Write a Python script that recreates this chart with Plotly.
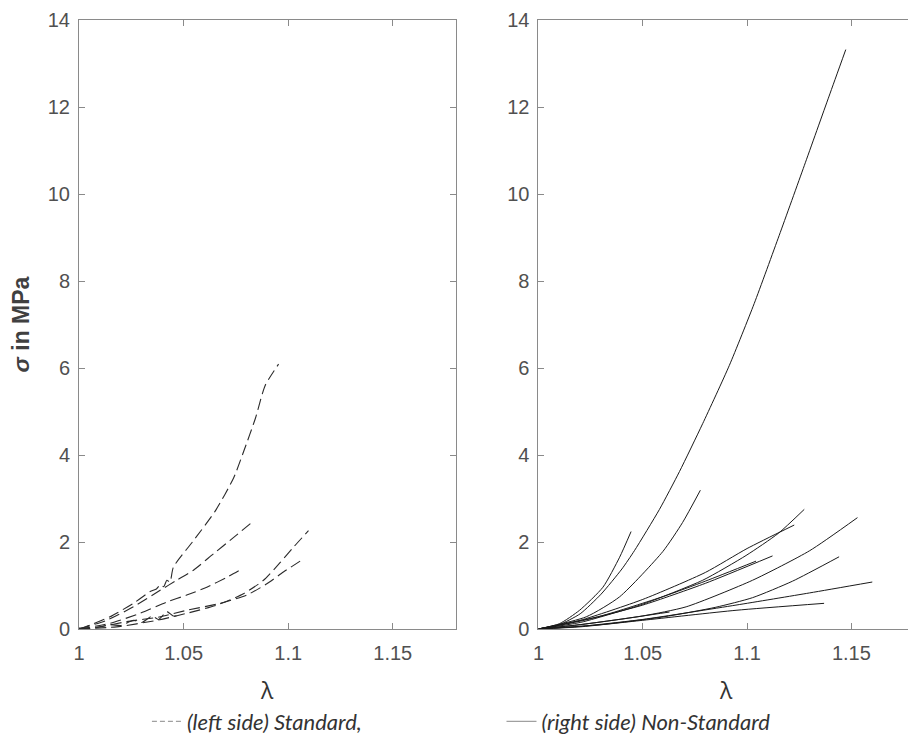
import plotly.graph_objects as go

# ---------------- data ----------------
# Left panel: standard specimens (dashed)
std1_x = [1.0, 1.0053, 1.0148, 1.026, 1.034, 1.037, 1.039, 1.0405, 1.042, 1.0435, 1.0451, 1.0547, 1.0651, 1.0739, 1.0787, 1.0843, 1.0890, 1.0954]
std1_y = [0.0, 0.09, 0.28, 0.59, 0.86, 0.92, 1.02, 0.97, 1.12, 1.08, 1.42, 2.03, 2.71, 3.47, 4.08, 4.84, 5.60, 6.09]
std2_x = [1.0, 1.0132, 1.026, 1.0388, 1.0467, 1.0547, 1.0643, 1.0738, 1.0826]
std2_y = [0.0, 0.2, 0.51, 0.89, 1.12, 1.35, 1.73, 2.10, 2.45]
std3_x = [1.0, 1.0148, 1.0292, 1.042, 1.0515, 1.0611, 1.0707, 1.0778]
std3_y = [0.0, 0.13, 0.36, 0.62, 0.78, 0.96, 1.19, 1.38]
std4_x = [1.0, 1.018, 1.0372, 1.0515, 1.0659, 1.0786, 1.0882, 1.0962, 1.1025, 1.1097]
std4_y = [0.0, 0.05, 0.2, 0.36, 0.55, 0.81, 1.12, 1.53, 1.88, 2.26]
std5_x = [1.0, 1.01, 1.0228, 1.0388, 1.0515, 1.0675, 1.0802, 1.0898, 1.0977, 1.1057]
std5_y = [0.0, 0.05, 0.17, 0.28, 0.43, 0.59, 0.78, 1.04, 1.31, 1.56]
std6_x = [1.0, 1.008, 1.015, 1.02, 1.026, 1.03, 1.035, 1.038, 1.042, 1.045, 1.048]
std6_y = [0.02, 0.03, 0.10, 0.08, 0.20, 0.15, 0.30, 0.22, 0.40, 0.30, 0.32]

# Right panel: non-standard specimens (solid)
ns_big_x = [1.0, 1.01, 1.02, 1.03, 1.04, 1.046, 1.058, 1.0676, 1.0787, 1.0915, 1.1034, 1.1154, 1.1274, 1.1393, 1.1473]
ns_big_y = [0.0, 0.1, 0.35, 0.8, 1.38, 1.8, 2.75, 3.62, 4.72, 6.06, 7.48, 9.05, 10.65, 12.25, 13.32]
ns_a_x = [1.0, 1.01, 1.0197, 1.0309, 1.0389, 1.0444]
ns_a_y = [0.0, 0.12, 0.43, 0.96, 1.65, 2.24]
ns_b_x = [1.0, 1.0229, 1.0389, 1.0596, 1.0691, 1.0776]
ns_b_y = [0.0, 0.28, 0.74, 1.78, 2.45, 3.19]
ns_c_x = [1.0, 1.02, 1.035, 1.05, 1.0787, 1.0995, 1.115, 1.1274]
ns_c_y = [0.0, 0.15, 0.35, 0.57, 1.12, 1.69, 2.2, 2.75]
ns_d_x = [1.0, 1.02, 1.05, 1.08, 1.1, 1.1226]
ns_d_y = [0.0, 0.2, 0.68, 1.3, 1.85, 2.39]
ns_e_x = [1.0, 1.02, 1.05, 1.0708, 1.1026, 1.13, 1.1529]
ns_e_y = [0.0, 0.1, 0.3, 0.51, 1.12, 1.8, 2.56]
ns_f_x = [1.0, 1.02, 1.05, 1.08, 1.1122]
ns_f_y = [0.0, 0.18, 0.55, 1.05, 1.68]
ns_g_x = [1.0, 1.03, 1.06, 1.08, 1.1043]
ns_g_y = [0.0, 0.3, 0.75, 1.1, 1.56]
ns_h_x = [1.0, 1.03, 1.06, 1.085, 1.1026, 1.1218, 1.1441]
ns_h_y = [0.0, 0.1, 0.28, 0.5, 0.72, 1.1, 1.66]
ns_i_x = [1.0, 1.02, 1.05, 1.0947, 1.13, 1.16]
ns_i_y = [0.0, 0.06, 0.22, 0.55, 0.83, 1.08]
ns_j_x = [1.0, 1.02, 1.05, 1.0947, 1.1369]
ns_j_y = [0.0, 0.05, 0.2, 0.43, 0.59]
ns_k_x = [1.0, 1.02, 1.04, 1.0628]
ns_k_y = [0.0, 0.1, 0.23, 0.39]

std_series = [(std1_x, std1_y), (std2_x, std2_y), (std3_x, std3_y),
              (std4_x, std4_y), (std5_x, std5_y), (std6_x, std6_y)]
ns_series = [(ns_big_x, ns_big_y), (ns_a_x, ns_a_y), (ns_b_x, ns_b_y), (ns_c_x, ns_c_y),
             (ns_d_x, ns_d_y), (ns_e_x, ns_e_y), (ns_f_x, ns_f_y), (ns_g_x, ns_g_y),
             (ns_h_x, ns_h_y), (ns_i_x, ns_i_y), (ns_j_x, ns_j_y), (ns_k_x, ns_k_y)]

x_tickvals = [1, 1.05, 1.1, 1.15]
x_ticktext = ["1", "1.05", "1.1", "1.15"]
y_tickvals = [0, 2, 4, 6, 8, 10, 12, 14]
y_ticktext = ["0", "2", "4", "6", "8", "10", "12", "14"]

legend_std = "(left side) Standard,"
legend_ns = "(right side) Non-Standard"

# ---------------- figure ----------------
fig = go.Figure()

for xs, ys in std_series:
    fig.add_trace(go.Scatter(x=xs, y=ys, mode="lines", xaxis="x", yaxis="y",
                             line=dict(color="#2a2a2a", width=1.1, dash="11px,5px", shape="spline", smoothing=0.6),
                             showlegend=False, hoverinfo="skip"))
for xs, ys in ns_series:
    fig.add_trace(go.Scatter(x=xs, y=ys, mode="lines", xaxis="x2", yaxis="y2",
                             line=dict(color="#1a1a1a", width=1.0, shape="spline", smoothing=0.6),
                             showlegend=False, hoverinfo="skip"))

# legend entries
fig.add_trace(go.Scatter(x=[None], y=[None], mode="lines", name=legend_std, legend="legend",
                         line=dict(color="#a0a0a0", width=1.2, dash="5px,3px")))
fig.add_trace(go.Scatter(x=[None], y=[None], mode="lines", name=legend_ns, legend="legend2",
                         line=dict(color="#a0a0a0", width=1.2)))

# page body has an 8px offset, so the figure is 908x736 placed at (8, 8)
OFF = 8
W, H = 916 - OFF, 744 - OFF
L, R, T, B = 79 - OFF, 1, 15 - OFF, 744 - 629
PW = W - L - R

axis_common = dict(
    showline=True, linecolor="#8a8a8a", linewidth=1, mirror="ticks",
    ticks="inside", ticklen=6, tickcolor="#8a8a8a", tickwidth=1,
    showgrid=False, zeroline=False, ticklabeloverflow="allow",
    tickfont=dict(family="Liberation Sans, Arial, sans-serif", size=20, color="#505050"),
)

xdom1 = [0, (456 - 79) / PW]
xdom2 = [(539 - 79) / PW, 1]

lam_font = dict(family="Open Sans, sans-serif", size=23, color="#333333")
leg_font = dict(family="Lato, Open Sans, sans-serif", size=22, color="#333333", style="italic")

fig.update_layout(
    width=W, height=H,
    margin=dict(l=L, r=R, t=T, b=B),
    plot_bgcolor="white", paper_bgcolor="white",
    xaxis=dict(domain=xdom1, range=[1, 1.18], tickvals=x_tickvals, ticktext=x_ticktext,
               title=dict(text="λ", font=lam_font, standoff=19),
               anchor="y", ticklabelstandoff=6, **axis_common),
    yaxis=dict(domain=[0, 1], range=[0, 14], tickvals=y_tickvals, ticktext=y_ticktext,
               title=dict(text="<b><i>σ</i> in MPa</b>", font=dict(family="Liberation Sans, Arial, sans-serif", size=23, color="#404040"), standoff=12),
               anchor="x", ticklabelstandoff=4, **axis_common),
    xaxis2=dict(domain=xdom2, range=[1, 1.18], tickvals=x_tickvals, ticktext=x_ticktext,
                title=dict(text="λ", font=lam_font, standoff=19),
                anchor="y2", ticklabelstandoff=6, **axis_common),
    yaxis2=dict(domain=[0, 1], range=[0, 14], tickvals=y_tickvals, ticktext=y_ticktext,
                anchor="x2", ticklabelstandoff=4, **axis_common),
    legend=dict(x=(147 - 79) / PW, xanchor="left", y=-0.152, yanchor="middle",
                orientation="h", bgcolor="rgba(0,0,0,0)", borderwidth=0, font=leg_font),
    legend2=dict(x=(502 - 79) / PW, xanchor="left", y=-0.152, yanchor="middle",
                 orientation="h", bgcolor="rgba(0,0,0,0)", borderwidth=0, font=leg_font),
)

fig.write_html("out.html")
